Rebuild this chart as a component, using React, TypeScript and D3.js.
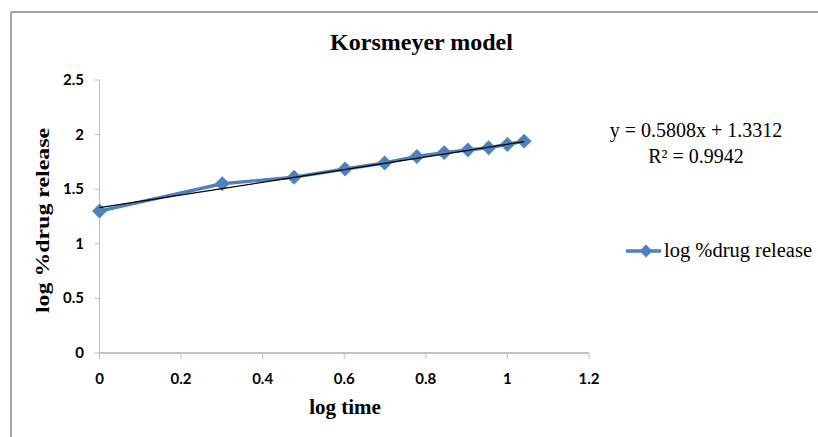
import React from "react";
import * as d3 from "d3";

const logTime = [0, 0.301, 0.477, 0.602, 0.699, 0.778, 0.845, 0.903, 0.954, 1.0, 1.041];
const logRelease = [1.30, 1.55, 1.61, 1.685, 1.74, 1.80, 1.835, 1.86, 1.88, 1.91, 1.94];
const xTicks = [0, 0.2, 0.4, 0.6, 0.8, 1, 1.2];
const yTicks = [0, 0.5, 1, 1.5, 2, 2.5];
const slope = 0.5808;
const intercept = 1.3312;

export default function App() {
  const W = 818, H = 437;
  const x = d3.scaleLinear().domain([0, 1.2]).range([99.5, 589]);
  const y = d3.scaleLinear().domain([0, 2.5]).range([353, 80]);
  const pts: [number, number][] = logTime.map((t, i) => [t, logRelease[i]]);
  const line = d3.line<[number, number]>().x(d => x(d[0])).y(d => y(d[1]));
  const tx0 = logTime[0], tx1 = logTime[logTime.length - 1];
  const diamond = (cx: number, cy: number, r: number) =>
    `M${cx},${cy - r}L${cx + r},${cy}L${cx},${cy + r}L${cx - r},${cy}Z`;
  const tickFont = "Lato, 'Open Sans', sans-serif";
  const serif = "'Liberation Serif', 'Times New Roman', serif";
  return (
    <svg width={W} height={H} style={{ position: "absolute", left: 0, top: 0 }}>
      <rect x={0} y={0} width={W} height={H} fill="#fff" />
      <line x1={11} y1={12} x2={W} y2={12} stroke="#868686" strokeWidth={1.5} />
      <line x1={11} y1={12} x2={11} y2={H} stroke="#868686" strokeWidth={1.5} />
      <text x={421.5} y={50} textAnchor="middle" fontFamily={serif} fontWeight="bold" fontSize={24}>Korsmeyer model</text>
      {/* y axis */}
      <line x1={x(0)} y1={y(0)} x2={x(0)} y2={y(2.5)} stroke="#bfbfbf" strokeWidth={1} />
      {yTicks.map(t => (
        <g key={"y" + t}>
          <line x1={x(0) - 5} x2={x(0)} y1={y(t)} y2={y(t)} stroke="#bfbfbf" />
          <text x={84} y={y(t) + 5} textAnchor="end" fontFamily={tickFont} fontWeight="bold" fontSize={15}>{t}</text>
        </g>
      ))}
      {/* x axis */}
      <line x1={x(0)} y1={y(0)} x2={x(1.2)} y2={y(0)} stroke="#868686" strokeWidth={1} />
      {xTicks.map(t => (
        <g key={"x" + t}>
          <line x1={x(t)} x2={x(t)} y1={y(0)} y2={y(0) + 6} stroke="#bfbfbf" />
          <text x={x(t)} y={384} textAnchor="middle" fontFamily={tickFont} fontWeight="bold" fontSize={15}>{t}</text>
        </g>
      ))}
      <text x={345} y={414} textAnchor="middle" fontFamily={serif} fontWeight="bold" fontSize={21}>log time</text>
      <text transform="translate(49,220.5) rotate(-90)" textAnchor="middle" fontFamily={serif} fontWeight="bold" fontSize={18.5} textLength={185} lengthAdjust="spacingAndGlyphs">log %drug release</text>
      {/* series */}
      <path d={line(pts) || ""} fill="none" stroke="#4f81bd" strokeWidth={3.4} strokeLinejoin="round" />
      {pts.map((p, i) => (
        <path key={i} d={diamond(x(p[0]), y(p[1]), 7.2)} fill="#4f81bd" stroke="#4a7ebb" strokeWidth={0.5} />
      ))}
      {/* trendline */}
      <line x1={x(tx0)} y1={y(slope * tx0 + intercept)} x2={x(tx1)} y2={y(slope * tx1 + intercept)} stroke="#000" strokeWidth={1.2} />
      <text x={696} y={137} textAnchor="middle" fontFamily={serif} fontSize={20}>y = 0.5808x + 1.3312</text>
      <text x={696} y={163} textAnchor="middle" fontFamily={serif} fontSize={20}>R² = 0.9942</text>
      {/* legend */}
      <line x1={626} x2={661} y1={251} y2={251} stroke="#4f81bd" strokeWidth={3.4} />
      <path d={diamond(646, 251, 6.5)} fill="#4f81bd" />
      <text x={664} y={257} fontFamily={serif} fontSize={20.5}>log %drug release</text>
    </svg>
  );
}
